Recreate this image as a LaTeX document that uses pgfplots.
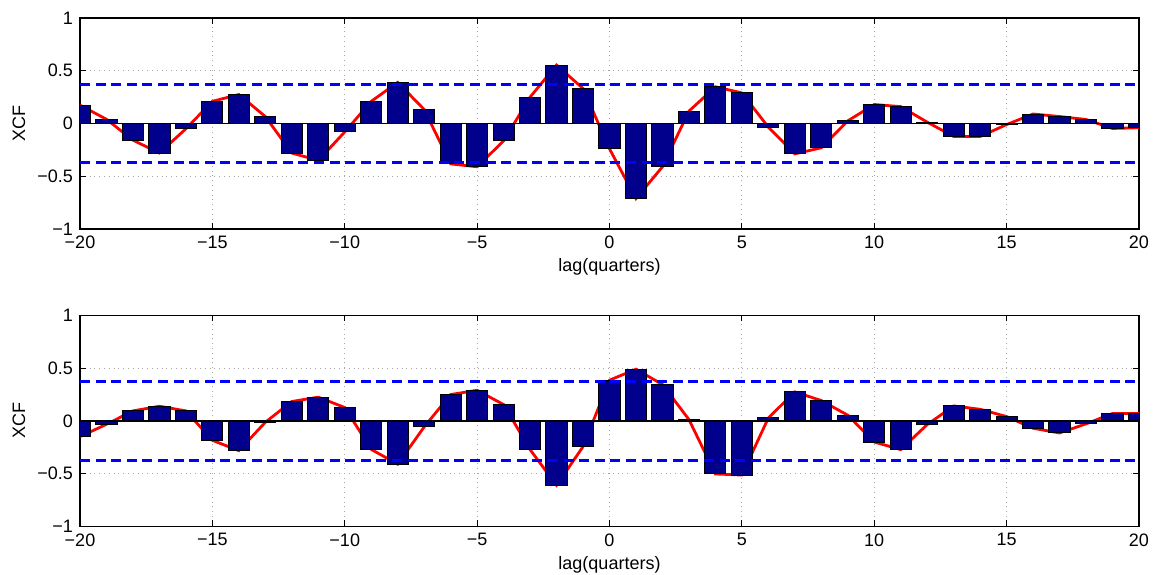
\documentclass[border=0pt]{standalone}
\usepackage{pgfplots}
\pgfplotsset{compat=1.18}
\usepackage{pgfplotstable}
\usepackage{fontspec}
\setmainfont{Liberation Sans}
\definecolor{barnavy}{rgb}{0,0,0.55}
\pgfplotstableread{
lag v
-20 0.174
-19 0.04
-18 -0.158
-17 -0.28
-16 -0.05
-15 0.21
-14 0.275
-13 0.066
-12 -0.28
-11 -0.35
-10 -0.08
-9 0.21
-8 0.39
-7 0.133
-6 -0.383
-5 -0.41
-4 -0.165
-3 0.25
-2 0.554
-1 0.332
0 -0.24
1 -0.712
2 -0.41
3 0.117
4 0.348
5 0.29
6 -0.035
7 -0.288
8 -0.23
9 0.025
10 0.18
11 0.16
12 0.013
13 -0.123
14 -0.123
15 -0.01
16 0.09
17 0.066
18 0.038
19 -0.047
20 -0.04
}\topdata
\pgfplotstableread{
lag v
-20 -0.149
-19 -0.032
-18 0.095
-17 0.139
-16 0.095
-15 -0.184
-14 -0.282
-13 -0.013
-12 0.184
-11 0.225
-10 0.127
-9 -0.27
-8 -0.41
-7 -0.057
-6 0.25
-5 0.29
-4 0.155
-3 -0.272
-2 -0.61
-1 -0.244
0 0.386
1 0.49
2 0.345
3 0.013
4 -0.503
5 -0.513
6 0.028
7 0.275
8 0.193
9 0.054
10 -0.2
11 -0.272
12 -0.035
13 0.142
14 0.11
15 0.041
16 -0.07
17 -0.114
18 -0.028
19 0.07
20 0.07
}\botdata
\pgfplotsset{
  xcfstyle/.style={
    scale only axis,
    width=529.5pt, height=105.5pt,
    xmin=-20, xmax=20, ymin=-1, ymax=1,
    xtick={-20,-15,...,20},
    xticklabels={−20,−15,−10,−5,0,5,10,15,20},
    ytick={-1,-0.5,0,0.5,1},
    yticklabels={−1,−0.5,0,0.5,1},
    tick align=inside,
    major tick length=3pt,
    grid=major,
    major grid style={dotted, gray!70, line width=0.5pt},
    axis line style={line width=0.6pt},
    tick style={line width=0.5pt, black},
    font=\fontsize{9}{10}\selectfont,
    ticklabel style={font=\fontsize{9}{10}\selectfont},
    xlabel={lag(quarters)},
    ylabel={XCF},
    every axis x label/.style={at={(axis description cs:0.5,-0.18)}, anchor=center},
    every axis y label/.style={at={(axis description cs:-0.0576,0.5)}, rotate=90, anchor=center},
    axis on top=false,
  },
  barstyle/.style={ybar, bar width=0.8, bar shift=0pt, fill=barnavy, draw=black, line width=0.5pt},
  redstyle/.style={red, line width=1.4pt, no marks},
  bluestyle/.style={blue, line width=1.5pt, dash pattern=on 5pt off 2.8pt, no marks},
}
\begin{document}
\begin{tikzpicture}
\useasboundingbox (-40pt,-172.5pt) rectangle (536.5pt,114.5pt);
\begin{axis}[xcfstyle, at={(0pt,0pt)}, anchor=south west]
\addplot[redstyle] table[x=lag, y=v] {\topdata};
\addplot[barstyle] table[x=lag, y=v] {\topdata};
\addplot[black, line width=0.6pt, no marks] coordinates {(-20,0) (20,0)};
\addplot[bluestyle] coordinates {(-20,0.373) (20,0.373)};
\addplot[bluestyle] coordinates {(-20,-0.373) (20,-0.373)};
\end{axis}
\begin{axis}[xcfstyle, at={(0pt,-148.7pt)}, anchor=south west]
\addplot[redstyle] table[x=lag, y=v] {\botdata};
\addplot[barstyle] table[x=lag, y=v] {\botdata};
\addplot[black, line width=0.6pt, no marks] coordinates {(-20,0) (20,0)};
\addplot[bluestyle] coordinates {(-20,0.373) (20,0.373)};
\addplot[bluestyle] coordinates {(-20,-0.373) (20,-0.373)};
\end{axis}
\end{tikzpicture}
\end{document}
